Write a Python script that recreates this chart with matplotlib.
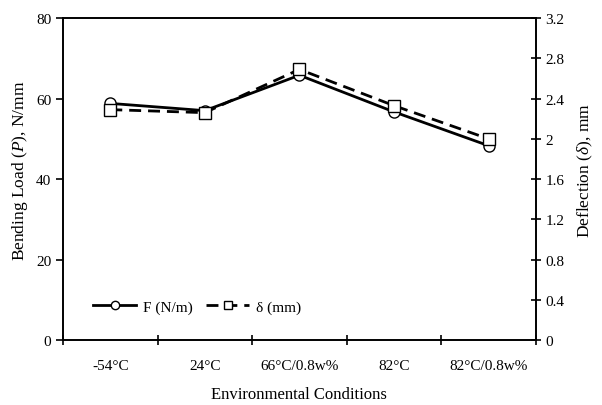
import matplotlib
matplotlib.use('Agg')
import matplotlib.pyplot as plt
import numpy as np

conditions = ['-54\u00b0C', '24\u00b0C', '66\u00b0C/0.8w%', '82\u00b0C', '82\u00b0C/0.8w%']
force = [58.8, 57.0, 65.8, 56.7, 48.3]        # N/mm, left axis
deflection = [2.29, 2.26, 2.69, 2.33, 2.00]   # mm, right axis

plt.rcParams['font.family'] = ['Liberation Serif', 'DejaVu Serif']
plt.rcParams['mathtext.fontset'] = 'custom'
plt.rcParams['mathtext.rm'] = 'Liberation Serif'
plt.rcParams['mathtext.it'] = 'Liberation Serif:italic'

fig = plt.figure(figsize=(6.02, 4.06), dpi=100)
ax = fig.add_axes([0.1047, 0.160, 0.7853, 0.793])
ax2 = ax.twinx()

x = np.arange(len(conditions))
l1, = ax.plot(x, force, color='black', lw=2, marker='o', ms=8,
              mfc='white', mec='black', mew=1.0, label='F (N/m)')
l2, = ax2.plot(x, deflection, color='black', lw=2, ls=(0, (4.3, 2.5)), marker='s', ms=8,
               mfc='white', mec='black', mew=1.0, label='\u03b4 (mm)')

ax.set_xlim(-0.5, len(conditions) - 0.5)
ax.set_ylim(0, 80)
ax.set_yticks([0, 20, 40, 60, 80])
ax2.set_ylim(0, 3.2)
ax2.set_yticks(np.arange(0, 3.21, 0.4))
ax2.set_yticklabels(['0', '0.4', '0.8', '1.2', '1.6', '2', '2.4', '2.8', '3.2'])

ax.set_xticks(x)
ax.set_xticklabels(conditions)
ax.set_xticks(np.arange(-0.5, len(conditions), 1), minor=True)
ax.tick_params(axis='x', which='major', length=0, pad=14, labelsize=11)
ax.tick_params(axis='x', which='minor', direction='inout', length=7, width=1.2)
ax.tick_params(axis='y', direction='out', length=5, width=1.2, labelsize=11)
ax2.tick_params(axis='y', direction='inout', length=7, width=1.2, labelsize=11)

for a in (ax, ax2):
    for s in a.spines.values():
        s.set_linewidth(1.2)

ax.set_xlabel('Environmental Conditions', fontsize=12, labelpad=10)
ax.set_ylabel('Bending Load ($\\it{P}$), N/mm', fontsize=12.5)
ax2.set_ylabel('Deflection ($\\it{\u03b4}$), mm', fontsize=12.5)
ax.yaxis.set_label_coords(-0.07, 0.53)
ax2.yaxis.set_label_coords(1.085, 0.53)

ax.legend(handles=[l1, l2], loc='center left', bbox_to_anchor=(0.035, 0.103),
          ncol=2, frameon=False, fontsize=11, handlelength=2.8, handletextpad=0.45,
          columnspacing=0.9, markerscale=0.75)

fig.savefig('out.png', dpi=100)
